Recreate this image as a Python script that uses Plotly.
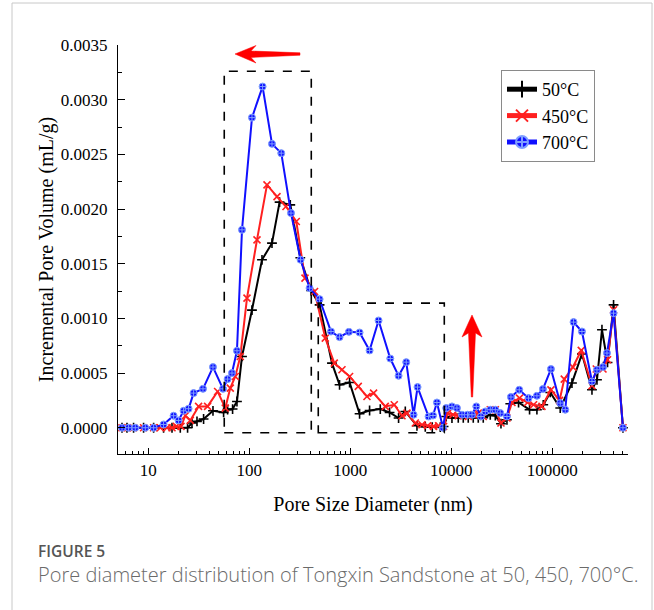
import plotly.graph_objects as go

# Pore size diameter (nm) and incremental pore volume (mL/g) for each temperature
d_50 = [5.49, 6.15, 7.15, 8.98, 11.29, 14.17, 17.17, 20.74, 24.49, 27.08, 30.35, 35.28,
        43.7, 55.67, 61.0, 68.34, 75.5, 84.7, 106.3, 133.6, 167.8, 199.5, 254.7, 319.9,
        408.3, 496.6, 658.8, 783, 984.2, 1236, 1553, 1982, 2450, 3008, 3505, 4575, 5528,
        6484, 7783, 8390, 8915, 10160, 11730, 13150, 14730, 16510, 18510, 20740, 24330,
        27290, 31060, 35590, 38390, 46380, 59600, 70470, 81450, 95550, 119900, 156700,
        196800, 247300, 277200, 310600, 352800, 404600, 501200]
v_50 = [0, 0, 0, 0, 0, 0, 0, 0, 0, 0.000043, 0.000058, 0.000080,
        0.000155, 0.000140, 0.000165, 0.000171, 0.000240, 0.000652, 0.001076, 0.001536,
        0.001688, 0.002063, 0.002038, 0.001554, 0.001255, 0.001124, 0.000591, 0.000393,
        0.000414, 0.000128, 0.000158, 0.000171, 0.000140, 0.000089, 0.000149, 0.000018,
        0.000009, 0.000005, 0.000005, 0.000012, 0.000103, 0.000089, 0.000091, 0.000091,
        0.000091, 0.000091, 0.000091, 0.000091, 0.000119, 0.000110, 0.000037, 0.000073,
        0.000219, 0.000231, 0.000165, 0.000165, 0.000210, 0.000323, 0.000180, 0.000409,
        0.000676, 0.000347, 0.000439, 0.000896, 0.000597, 0.001124, 0]

d_450 = [5.49, 6.15, 7.15, 8.98, 11.29, 13.15, 15.31, 17.17, 18.93, 21.08, 23.25, 26.05,
         31.48, 38.65, 48.55, 57.86, 64.85, 72.67, 81.45, 94.9, 119.2, 149.7, 188.1, 230.9,
         292.0, 356.0, 443.1, 565.5, 694.3, 827.7, 984.2, 1200, 1463, 1701, 2221, 2727,
         3251, 3643, 4401, 5128, 5825, 6680, 7487, 8390, 9192, 10390, 11730, 13150, 14730,
         16510, 18510, 20740, 24330, 27290, 31060, 35590, 39900, 47420, 56940, 65290,
         79070, 97030, 118100, 131500, 160300, 193700, 247300, 272700, 317800, 352800,
         404600, 501200]
v_450 = [0, 0, 0, 0, 0, 0, 0, 0, 0.000012, 0.000012, 0.000110, 0.000067,
         0.000195, 0.000195, 0.000332, 0.000180, 0.000363, 0.000469, 0.000652, 0.001186,
         0.001718, 0.002221, 0.002114, 0.002023, 0.001886, 0.001368, 0.001246, 0.000820,
         0.000591, 0.000530, 0.000469, 0.000378, 0.000286, 0.000317, 0.000195, 0.000210,
         0.000110, 0.000134, 0.000043, 0.000027, 0.000018, 0.000012, 0.000018, 0.000012,
         0.000134, 0.000119, 0.000110, 0.000110, 0.000103, 0.000119, 0.000134, 0.000103,
         0.000165, 0.000165, 0.000043, 0.000089, 0.000231, 0.000271, 0.000231, 0.000210,
         0.000195, 0.000347, 0.000250, 0.000445, 0.000555, 0.000707, 0.000384, 0.000537,
         0.000537, 0.000622, 0.001079, 0]

d_700 = [5.49, 6.38, 7.43, 9.34, 11.29, 14.17, 17.81, 19.95, 22.36, 25.06, 28.09, 34.8,
         43.7, 54.9, 61.0, 67.4, 75.5, 84.7, 106.3, 135.4, 167.8, 207.4, 258.8, 322,
         395.4, 496.6, 644, 783, 970, 1236, 1553, 1906, 2489, 3008, 3583, 4236, 4636,
         5960, 6590, 7215, 8277, 8915, 10160, 11380, 12760, 14490, 16030, 17690, 19680,
         21720, 24330, 27290, 30550, 35590, 38990, 47100, 58210, 70470, 80860, 97030,
         119900, 134500, 162500, 196800, 247300, 277200, 317800, 348200, 404600, 501200]
v_700 = [0, 0, 0, 0, 0, 0.000030, 0.000110, 0.000067, 0.000155, 0.000174, 0.000317, 0.000356,
         0.000555, 0.000356, 0.000445, 0.000500, 0.000704, 0.001810, 0.002836, 0.003120,
         0.002596, 0.002511, 0.001963, 0.001536, 0.001277, 0.001176, 0.000880, 0.000829,
         0.000877, 0.000871, 0.000707, 0.000981, 0.000633, 0.000475, 0.000600, 0.000119,
         0.000372, 0.000103, 0.000112, 0.000231, 0, 0.000180, 0.000195, 0.000180,
         0.000119, 0.000119, 0.000119, 0.000195, 0.000103, 0.000149, 0.000165, 0.000165,
         0.000134, 0.000103, 0.000281, 0.000347, 0.000271, 0.000292, 0.000354, 0.000537,
         0.000226, 0.000165, 0.000966, 0.000880, 0.000423, 0.000530, 0.000555, 0.000683,
         0.001048, 0]

series_names = ["50°C", "450°C", "700°C"]
y_ticks = [0.0, 0.0005, 0.0010, 0.0015, 0.0020, 0.0025, 0.0030, 0.0035]
x_ticks = [10, 100, 1000, 10000, 100000]

# Dashed regions: (d_min, d_max, v_min, v_max)
box_peak = (56.5, 411, -0.000046, 0.00326)
box_meso = (482, 8530, -0.000046, 0.00114)

SERIF = "Liberation Serif, Times New Roman, serif"

# plot area geometry in pixels
W, H = 654, 610
L, R, T, B = 118, 26, 45, 156
PW, PH = W - L - R, H - T - B


def px(x, y):
    """Pixel position -> paper coordinates."""
    return (x - L) / PW, (H - B - y) / PH


def path(points):
    parts = []
    for i, (x, y) in enumerate(points):
        u, v = px(x, y)
        parts.append(("M" if i == 0 else "L") + f"{u:.5f},{v:.5f}")
    return " ".join(parts) + " Z"


fig = go.Figure()

styles = [
    dict(color="#000000", symbol="cross-thin", size=7),
    dict(color="#ff2020", symbol="x-thin", size=7),
    dict(color="#1010ff", symbol="circle-cross", size=7),
]
for name, xs, ys, st in zip(series_names, [d_50, d_450, d_700], [v_50, v_450, v_700], styles):
    if st["symbol"] == "circle-cross":
        marker = dict(symbol="circle-cross", size=st["size"], color=st["color"],
                      line=dict(color="#7f9fff", width=1))
    else:
        marker = dict(symbol=st["symbol"], size=st["size"], color=st["color"],
                      line=dict(color=st["color"], width=1.6))
    fig.add_trace(go.Scatter(x=xs, y=ys, name=name, mode="lines+markers",
                             line=dict(color=st["color"], width=2), marker=marker))

shapes = []
for x0, x1, y0, y1 in (box_peak, box_meso):
    shapes.append(dict(type="rect", xref="x", yref="y", x0=x0, x1=x1, y0=y0, y1=y1,
                       line=dict(color="#000000", width=1.6, dash="dash"),
                       fillcolor="rgba(0,0,0,0)", layer="above"))

# red arrows
left_arrow = [(235, 54), (256, 45.5), (251, 51), (300, 52.8), (300, 55.2), (251, 57.5), (256, 63)]
up_arrow = [(472, 315), (482, 337), (475.5, 333), (472.7, 397), (471.3, 397), (468.5, 333), (462, 337)]
for pts in (left_arrow, up_arrow):
    shapes.append(dict(type="path", xref="paper", yref="paper", path=path(pts),
                       fillcolor="#ff0000", line=dict(color="#ff0000", width=0.5)))

# outer frame
fx0, fy0 = px(12, 3)
fx1, fy1 = px(652, 610)
for seg in ((fx0, fy1, fx0, fy0), (fx0, fy0, fx1, fy0), (fx1, fy0, fx1, fy1)):
    shapes.append(dict(type="line", xref="paper", yref="paper", x0=seg[0], y0=seg[1],
                       x1=seg[2], y1=seg[3], line=dict(color="#c8c8c8", width=1)))

cap_x, cap_y1 = px(36, 551)
_, cap_y2 = px(36, 574)
annotations = [
    dict(text="FIGURE 5", xref="paper", yref="paper", x=cap_x, y=cap_y1, xanchor="left",
         yanchor="middle", showarrow=False,
         font=dict(family="Open Sans", size=15.5, color="#555555", weight=600)),
    dict(text="Pore diameter distribution of Tongxin Sandstone at 50, 450, 700°C.",
         xref="paper", yref="paper", x=cap_x, y=cap_y2, xanchor="left", yanchor="middle",
         showarrow=False, font=dict(family="Open Sans", size=20, color="#6a6a6a", weight=300)),
]

lx, ly = px(501, 70)
fig.update_layout(
    width=W, height=H,
    margin=dict(l=L, r=R, t=T, b=B),
    paper_bgcolor="white", plot_bgcolor="white",
    font=dict(family=SERIF, color="#000000"),
    showlegend=True,
    legend=dict(x=lx, y=ly, xanchor="left", yanchor="top",
                bordercolor="#8a8a8a", borderwidth=1, bgcolor="white",
                font=dict(family=SERIF, size=18), tracegroupgap=0,
                itemsizing="constant"),
    xaxis=dict(type="log", range=[0.70, 5.75],
               tickvals=x_ticks, ticktext=[str(t) for t in x_ticks],
               ticks="inside", ticklen=6, tickwidth=1.2, tickcolor="#000",
               showline=True, linecolor="#000", linewidth=1.3, showgrid=False, zeroline=False,
               tickfont=dict(family=SERIF, size=17),
               minor=dict(ticks="inside", ticklen=3, tickwidth=1, tickcolor="#000",
                          dtick="D1", showgrid=False),
               title=dict(text="Pore Size Diameter (nm)", font=dict(family=SERIF, size=20),
                          standoff=18)),
    yaxis=dict(range=[-0.00024, 0.0035],
               tickvals=y_ticks, tickformat=".4f",
               ticks="inside", ticklen=7, tickwidth=1.2, tickcolor="#000",
               showline=True, linecolor="#000", linewidth=1.3, showgrid=False, zeroline=False,
               tickfont=dict(family=SERIF, size=17),
               ticklabelstandoff=6,
               minor=dict(ticks="inside", ticklen=4, tickwidth=1, tickcolor="#000",
                          dtick=0.00025, showgrid=False),
               title=dict(text="Incremental Pore Volume (mL/g)", font=dict(family=SERIF, size=20),
                          standoff=1)),
    shapes=shapes,
    annotations=annotations,
)

fig.write_html("out.html")
